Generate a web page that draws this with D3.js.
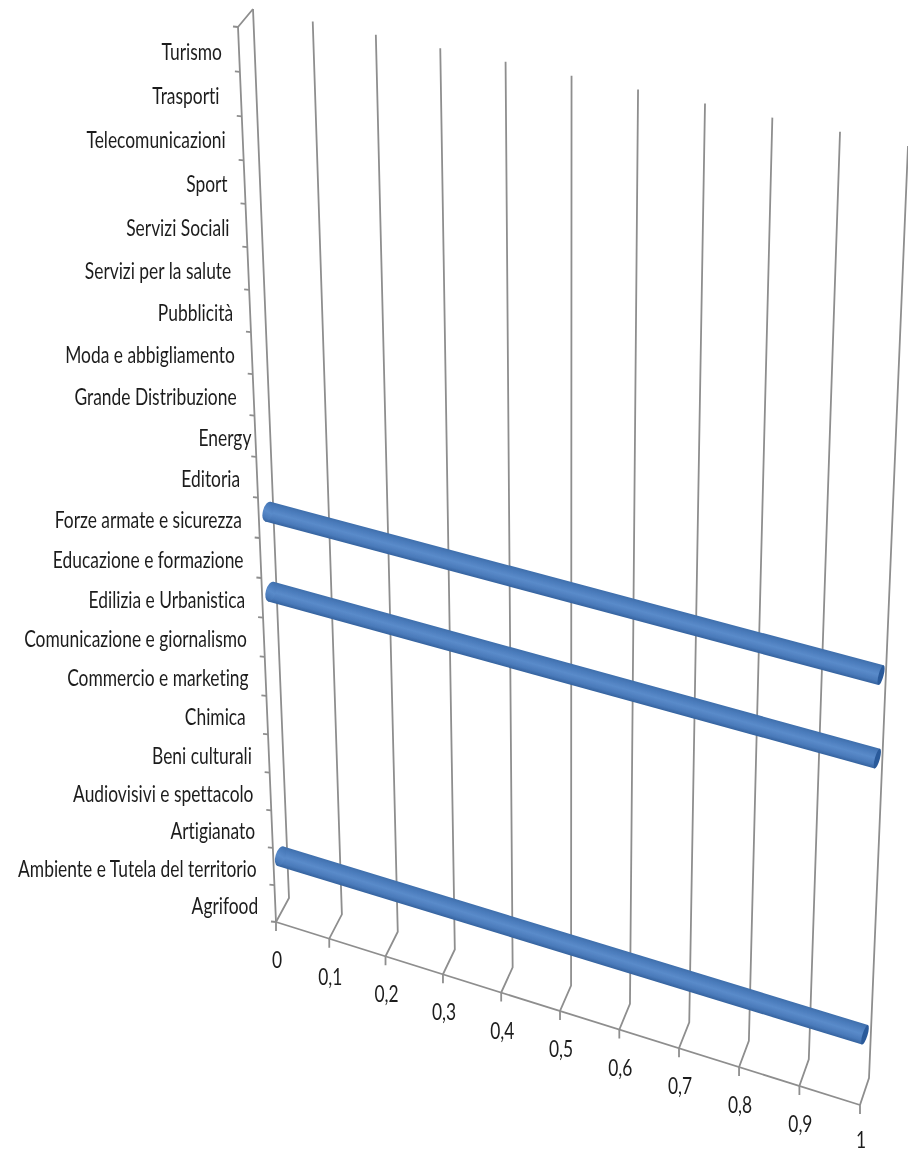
<!DOCTYPE html>
<html><head><meta charset="utf-8">
<script src="https://cdn.jsdelivr.net/npm/d3@7/dist/d3.min.js"></script>
<style>html,body{margin:0;padding:0;background:#fff}svg{display:block}
text{font-family:Lato,"Liberation Sans",sans-serif;font-size:24px;fill:#1c1c1c;font-variant-ligatures:none}</style>
</head><body><script>
const categories=["Agrifood","Ambiente e Tutela del territorio","Artigianato","Audiovisivi e spettacolo","Beni culturali","Chimica ","Commercio e marketing","Comunicazione e giornalismo","Edilizia e Urbanistica","Educazione e formazione","Forze armate e sicurezza","Editoria","Energy","Grande Distribuzione","Moda e abbigliamento","Pubblicità","Servizi per la salute","Servizi Sociali","Sport","Telecomunicazioni","Trasporti ","Turismo"];
const values=[0,1,0,0,0,0,0,0,1,0,1,0,0,0,0,0,0,0,0,0,0,0];
const valueTicks=[0,0.1,0.2,0.3,0.4,0.5,0.6,0.7,0.8,0.9,1];
const W=908,H=1151;
const svg=d3.select("body").append("svg").attr("width",W).attr("height",H);
const defs=svg.append("defs");
defs.append("filter").attr("id","soft").append("feGaussianBlur").attr("stdDeviation",0.4);

const lerp=(a,b)=>d3.scaleLinear().domain([0,1]).range([a,b]);
const vPersp=d3.scalePow().exponent(1.04).domain([0,1]).range([0,1]);
const band=d3.scaleBand().domain(categories).range([0,1]);
const persp=k=>u=>u/(u+k*(1-u));
const pAxis=persp(1.109), pBar=persp(1.15);

function plane(bl,br,tl,tr){
  const bx=lerp(bl[0],br[0]),by=lerp(bl[1],br[1]),tx=lerp(tl[0],tr[0]),ty=lerp(tl[1],tr[1]);
  return (v,f)=>{const t=vPersp(v);return [lerp(bx(t),tx(t))(f),lerp(by(t),ty(t))(f)];};
}
const front=plane([276,922],[860,1105],[238,27],[900,165]);
const back=plane([289,898],[869,1078],[253,9],[908,146]);
const barPlane=plane([282.5,910],[862.5,1091],[249.5,10],[904.5,151.5]);
const line=d3.line();
const grid="#8e8e8e";

const g=svg.append("g").attr("fill","none").attr("stroke",grid).attr("stroke-width",1.8);
g.selectAll("path.grid").data(valueTicks).join("path").attr("class","grid")
 .attr("d",v=>{const f=front(v,0);return line([[f[0],f[1]+9],f,back(v,0),back(v,1)]);});
g.append("path").attr("d",line([front(0,0),front(1,0)]));
g.append("path").attr("d",line([front(0,0),front(0,1),back(0,1)]));
const tickU=d3.range(categories.length+1).map(i=>i/categories.length);
g.selectAll("path.ct").data(tickU).join("path").attr("class","ct")
 .attr("d",u=>{const p=front(0,pAxis(u));return line([[p[0]-5,p[1]-0.5],p]);});

const bars=categories.map((c,i)=>({c,v:values[i]})).filter(d=>d.v>0);
const R=10.2;
bars.forEach((d,i)=>{
  const f=pBar(band(d.c)+band.bandwidth()/2);
  const a=barPlane(0,f),b=barPlane(d.v,f);
  const dx=b[0]-a[0],dy=b[1]-a[1],L=Math.hypot(dx,dy),nx=-dy/L,ny=dx/L;
  const id="cyl"+i;
  const gr=defs.append("linearGradient").attr("id",id).attr("gradientUnits","userSpaceOnUse")
    .attr("x1",a[0]-nx*R).attr("y1",a[1]-ny*R).attr("x2",a[0]+nx*R).attr("y2",a[1]+ny*R);
  [[0,"#3f6fac"],[0.2,"#4a7bbb"],[0.5,"#5a8bca"],[0.8,"#4a7aba"],[1,"#34629e"]].forEach(s=>gr.append("stop").attr("offset",s[0]).attr("stop-color",s[1]));
  const ang=Math.atan2(dy,dx)*180/Math.PI;
  const grp=svg.append("g").attr("filter","url(#soft)");
  grp.append("path").attr("fill",`url(#${id})`)
    .attr("d",line([[a[0]+nx*R,a[1]+ny*R],[b[0]+nx*R,b[1]+ny*R],[b[0]-nx*R,b[1]-ny*R],[a[0]-nx*R,a[1]-ny*R]])+"Z");
  grp.append("ellipse").attr("cx",a[0]).attr("cy",a[1]).attr("rx",5).attr("ry",R)
    .attr("transform",`rotate(${ang} ${a[0]} ${a[1]})`).attr("fill",`url(#${id})`);
  grp.append("ellipse").attr("cx",b[0]).attr("cy",b[1]).attr("rx",2.5).attr("ry",R)
    .attr("transform",`rotate(${ang} ${b[0]} ${b[1]})`).attr("fill","#2b5a9a");
});

const nudge={"Energy":13};
const squeeze=0.725;
const lab=svg.append("g").attr("filter","url(#soft)");
lab.selectAll("text.cat").data(categories).join("text").attr("class","cat")
 .attr("text-anchor","end").style("white-space","pre")
 .attr("transform",c=>{const p=front(0,pAxis(band(c)+band.bandwidth()/2));
   return `translate(${p[0]-17+(nudge[c]||0)},${p[1]+10}) scale(${squeeze},1)`;})
 .text(c=>c);
lab.selectAll("text.val").data(valueTicks).join("text").attr("class","val")
 .attr("text-anchor","middle")
 .attr("transform",v=>{const p=front(v,0);return `translate(${p[0]+1},${p[1]+(v===1?43:46)}) scale(${squeeze},1)`;})
 .text(v=>String(v).replace(".",","));
</script></body></html>
